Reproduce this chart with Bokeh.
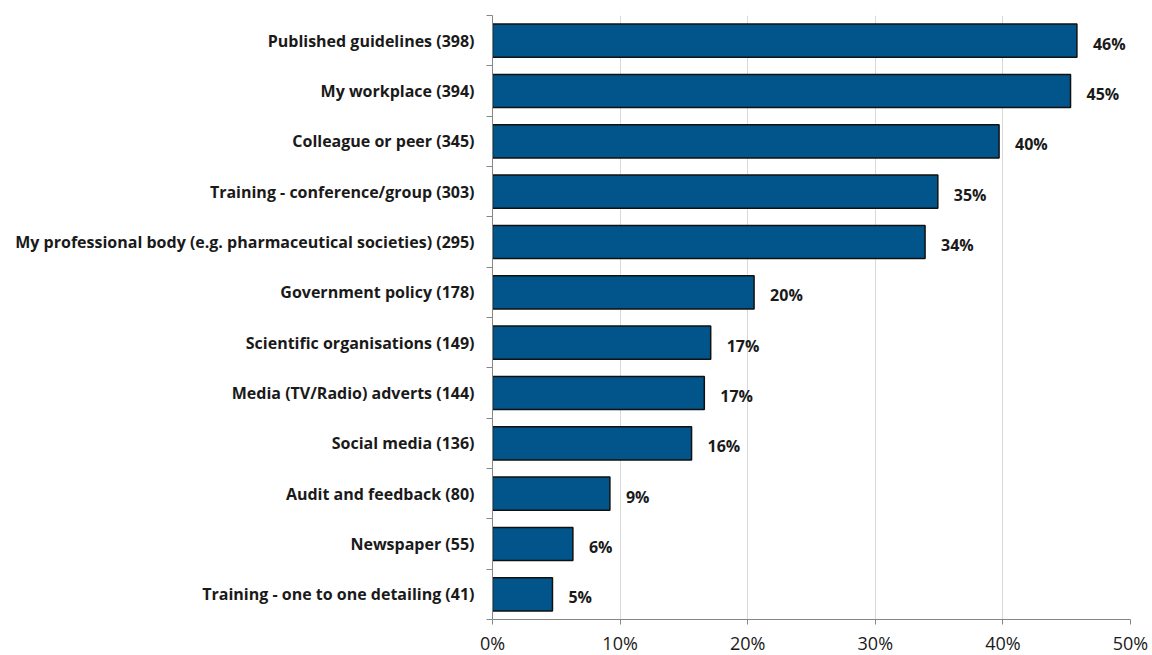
from bokeh.plotting import figure
from bokeh.models import ColumnDataSource, FixedTicker, PrintfTickFormatter, Range1d
from bokeh.core.properties import value
from bokeh.embed import file_html
from bokeh.resources import INLINE

categories = [
    "Published guidelines",
    "My workplace",
    "Colleague or peer",
    "Training - conference/group",
    "My professional body (e.g. pharmaceutical societies)",
    "Government policy",
    "Scientific organisations",
    "Media (TV/Radio) adverts",
    "Social media",
    "Audit and feedback",
    "Newspaper",
    "Training - one to one detailing",
]
counts = [398, 394, 345, 303, 295, 178, 149, 144, 136, 80, 55, 41]
percents = [45.8, 45.3, 39.7, 34.9, 33.9, 20.5, 17.1, 16.6, 15.6, 9.2, 6.3, 4.7]
pct_labels = ["46%", "45%", "40%", "35%", "34%", "20%", "17%", "17%", "16%", "9%", "6%", "5%"]
x_ticks = [0, 10, 20, 30, 40, 50]

n = len(categories)
ypos = [n - 0.5 - i for i in range(n)]
src = ColumnDataSource(dict(y=ypos, v=percents, lab=pct_labels))

FONT = "Open Sans"

p = figure(
    output_backend="svg", toolbar_location=None,
    frame_width=638, frame_height=604,
    min_border_left=492, min_border_top=15, min_border_right=20, min_border_bottom=20,
    x_range=Range1d(0, 50), y_range=Range1d(0, n),
)
p.outline_line_color = None

p.hbar(y="y", right="v", left=0, height=0.66, source=src,
       fill_color="#02558B", line_color="#111111", line_width=1.5)

p.text(x="v", y="y", text="lab", source=src, x_offset=16, y_offset=3,
       text_baseline="middle", text_align="left",
       text_font=value(FONT), text_font_style="bold", text_font_size="16px",
       text_color="#1a1a1a")

# x axis
p.xaxis.ticker = FixedTicker(ticks=x_ticks)
p.xaxis.formatter = PrintfTickFormatter(format="%d%%")
p.xaxis.major_tick_out = 5
p.xaxis.major_tick_in = 0
p.xaxis.minor_tick_line_color = None
p.xaxis.axis_line_color = "#868686"
p.xaxis.major_tick_line_color = "#868686"
p.xaxis.major_label_standoff = 6
p.xaxis.major_label_text_font = FONT
p.xaxis.major_label_text_font_size = "18px"
p.xaxis.major_label_text_color = "#1a1a1a"

# y axis
p.yaxis.ticker = FixedTicker(ticks=ypos, minor_ticks=list(range(n + 1)))
p.yaxis.major_label_overrides = {y: f"{c} ({k})" for y, c, k in zip(ypos, categories, counts)}
p.yaxis.major_tick_line_color = None
p.yaxis.major_tick_out = 0
p.yaxis.major_tick_in = 0
p.yaxis.minor_tick_out = 6
p.yaxis.minor_tick_in = 0
p.yaxis.minor_tick_line_color = "#868686"
p.yaxis.axis_line_color = "#868686"
p.yaxis.major_label_standoff = 12
p.yaxis.major_label_text_font = FONT
p.yaxis.major_label_text_font_style = "bold"
p.yaxis.major_label_text_font_size = "16px"
p.yaxis.major_label_text_color = "#1a1a1a"

p.xgrid.ticker = FixedTicker(ticks=x_ticks)
p.xgrid.grid_line_color = "#D9D9D9"
p.ygrid.grid_line_color = None

open("out.html", "w").write(file_html(p, INLINE))
